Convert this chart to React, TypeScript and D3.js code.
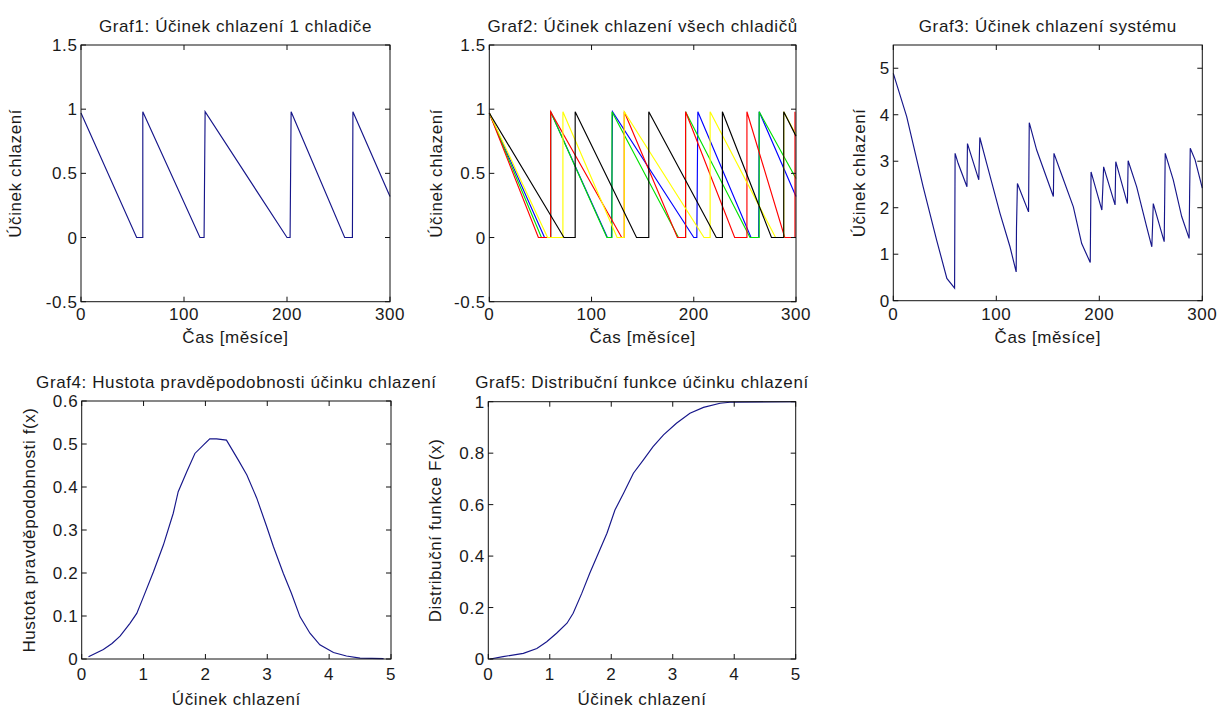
import React from "react";
import * as d3 from "d3";

// ---------- DATA ----------
// Graf1 / blue cooler in Graf2: [time (months), cooling effect]
const cooler1: [number, number][] = [
  [0, 0.97], [54, 0], [60, 0], [60, 0.98], [115.5, 0], [119.5, 0], [120, 0.5], [120.5, 0.98],
  [200, 0], [203, 0], [203.5, 0.5], [204, 0.98], [256, 0], [263.5, 0], [264, 0.98], [300, 0.32],
];
const coolerGreen: [number, number][] = [
  [0, 0.97], [51, 0], [60, 0], [60, 0.98], [115, 0], [120, 0], [120, 0.98], [185, 0], [192, 0],
  [192, 0.98], [255, 0], [264, 0], [264, 0.98], [300, 0.46],
];
const coolerRed: [number, number][] = [
  [0, 0.97], [48, 0], [60, 0], [60, 0.98], [129.5, 0], [132, 0], [132, 0.98], [184, 0], [192, 0],
  [192, 0.98], [240, 0], [252, 0], [252, 0.98], [289, 0], [299, 0], [299, 0.98],
];
const coolerYellow: [number, number][] = [
  [0, 0.97], [57, 0], [72, 0], [72, 0.98], [125, 0], [132, 0], [132, 0.98], [210, 0], [216, 0],
  [216, 0.98], [280, 0], [288, 0], [288, 0.98], [300, 0.8],
];
const coolerBlack: [number, number][] = [
  [0, 0.97], [73, 0], [84, 0], [84, 0.98], [144, 0], [156, 0], [156, 0.98], [222, 0], [228, 0],
  [228, 0.98], [276, 0], [288, 0], [288, 0.98], [300, 0.79],
];
const systemEffect: [number, number][] = [
  [0, 4.89], [13, 3.96], [29, 2.45], [42, 1.31], [52, 0.48], [59.5, 0.27],
  [60, 3.17], [63, 2.95], [71.5, 2.45], [72, 3.38], [83, 2.6], [84, 3.51], [90.7, 2.95],
  [103.6, 1.88], [113.3, 1.16], [119.3, 0.62], [119.6, 1.56], [120.5, 2.52], [131.3, 1.91],
  [132, 3.83], [139.2, 3.24], [152, 2.45], [155.4, 2.24], [156, 3.17], [161.8, 2.81],
  [174.8, 2.02], [182.9, 1.23], [191.2, 0.82], [192, 2.77], [202.5, 1.95], [203.4, 2.42],
  [204.2, 2.88], [215.3, 2.06], [216, 2.99], [227.3, 2.09], [228, 3.01], [236.3, 2.45],
  [246, 1.59], [251, 1.16], [251.7, 1.6], [252.4, 2.09], [263, 1.27], [264, 3.17],
  [271.8, 2.6], [280, 1.81], [287.2, 1.34], [287.7, 2.31], [288.3, 3.28], [293, 3.03], [300, 2.42],
];
const densityX = [0.11, 0.35, 0.49, 0.62, 0.78, 0.89, 1.0, 1.16, 1.32, 1.48, 1.56, 1.7, 1.83, 1.97, 2.07, 2.18, 2.34, 2.53, 2.67, 2.83, 2.99, 3.1, 3.26, 3.39, 3.53, 3.69, 3.85, 4.07, 4.28, 4.5, 4.88];
const densityY = [0.005, 0.022, 0.036, 0.053, 0.083, 0.106, 0.145, 0.203, 0.265, 0.339, 0.389, 0.436, 0.478, 0.498, 0.512, 0.512, 0.509, 0.463, 0.428, 0.374, 0.308, 0.261, 0.199, 0.153, 0.098, 0.06, 0.033, 0.015, 0.007, 0.002, 0.001];
const cdfX = [0.03, 0.24, 0.57, 0.79, 0.95, 1.11, 1.28, 1.38, 1.52, 1.65, 1.79, 1.93, 2.06, 2.2, 2.36, 2.52, 2.68, 2.85, 3.06, 3.28, 3.5, 3.77, 3.93, 5];
const cdfY = [0, 0.009, 0.022, 0.041, 0.067, 0.1, 0.139, 0.178, 0.255, 0.333, 0.411, 0.489, 0.579, 0.644, 0.722, 0.773, 0.825, 0.871, 0.916, 0.955, 0.978, 0.994, 0.998, 1];

const timeTicks = [0, 100, 200, 300];
const coolerTicks = [-0.5, 0, 0.5, 1, 1.5];
const systemTicks = [0, 1, 2, 3, 4, 5];
const effectTicks = [0, 1, 2, 3, 4, 5];
const densityTicks = [0, 0.1, 0.2, 0.3, 0.4, 0.5, 0.6];
const cdfTicks = [0, 0.2, 0.4, 0.6, 0.8, 1];

const BLUE = "#16168a";
const FONT = "'Liberation Sans', Arial, sans-serif";

type Box = { l: number; t: number; r: number; b: number };
type Series = { data: [number, number][]; color: string };

interface PanelProps {
  box: Box;
  xDomain: [number, number];
  yDomain: [number, number];
  xTicks: number[];
  yTicks: number[];
  title: string;
  xLabel: string;
  yLabel: string;
  series: Series[];
  xTickDy: number;
  xLabelDy: number;
  yLabelDx: number;
}

function Panel(p: PanelProps) {
  const { box } = p;
  const x = d3.scaleLinear().domain(p.xDomain).range([box.l, box.r]);
  const y = d3.scaleLinear().domain(p.yDomain).range([box.b, box.t]);
  const line = d3.line<[number, number]>().x((d) => x(d[0])).y((d) => y(d[1]));
  const tl = 5;
  const cx = (box.l + box.r) / 2;
  const cy = (box.t + box.b) / 2;
  const txt = { fontFamily: FONT, fontSize: 17, letterSpacing: 0.6, fill: "#1a1a1a" } as const;
  return (
    <g>
      {p.series.map((s, i) => (
        <path key={i} d={line(s.data) || ""} fill="none" stroke={s.color} strokeWidth={1.15} />
      ))}
      <rect x={box.l} y={box.t} width={box.r - box.l} height={box.b - box.t} fill="none" stroke="#111" strokeWidth={1} />
      {p.xTicks.map((v) => (
        <g key={"x" + v}>
          <line x1={x(v)} x2={x(v)} y1={box.b} y2={box.b - tl} stroke="#111" />
          <line x1={x(v)} x2={x(v)} y1={box.t} y2={box.t + tl} stroke="#111" />
          <text x={x(v)} y={box.b + p.xTickDy} textAnchor="middle" {...txt}>{String(v)}</text>
        </g>
      ))}
      {p.yTicks.map((v) => (
        <g key={"y" + v}>
          <line x1={box.l} x2={box.l + tl} y1={y(v)} y2={y(v)} stroke="#111" />
          <line x1={box.r} x2={box.r - tl} y1={y(v)} y2={y(v)} stroke="#111" />
          <text x={box.l - 3.5} y={y(v) + 6} textAnchor="end" {...txt}>{String(v)}</text>
        </g>
      ))}
      <text x={cx} y={box.t - 13.5} textAnchor="middle" {...txt}>{p.title}</text>
      <text x={cx} y={box.b + p.xLabelDy} textAnchor="middle" {...txt}>{p.xLabel}</text>
      <text transform={`translate(${box.l - p.yLabelDx},${cy}) rotate(-90)`} textAnchor="middle" {...txt}>{p.yLabel}</text>
    </g>
  );
}

export default function App() {
  const dens: [number, number][] = densityX.map((v, i) => [v, densityY[i]]);
  const cdf: [number, number][] = cdfX.map((v, i) => [v, cdfY[i]]);
  return (
    <svg width={1219} height={709} style={{ position: "absolute", left: 0, top: 0, background: "#fff" }}>
      <rect width={1219} height={709} fill="#fff" />
      <Panel
        box={{ l: 81, t: 45, r: 390, b: 301.7 }}
        xDomain={[0, 300]} yDomain={[-0.5, 1.5]} xTicks={timeTicks} yTicks={coolerTicks}
        title="Graf1: Účinek chlazení 1 chladiče" xLabel="Čas [měsíce]" yLabel="Účinek chlazení"
        series={[{ data: cooler1, color: BLUE }]}
        xTickDy={18.5} xLabelDy={41} yLabelDx={60.5}
      />
      <Panel
        box={{ l: 489.3, t: 45, r: 796, b: 301.7 }}
        xDomain={[0, 300]} yDomain={[-0.5, 1.5]} xTicks={timeTicks} yTicks={coolerTicks}
        title="Graf2: Účinek chlazení všech chladičů" xLabel="Čas [měsíce]" yLabel="Účinek chlazení"
        series={[
          { data: cooler1, color: "#0000ff" },
          { data: coolerGreen, color: "#00e000" },
          { data: coolerRed, color: "#ff0000" },
          { data: coolerYellow, color: "#ffff00" },
          { data: coolerBlack, color: "#000000" },
        ]}
        xTickDy={18.5} xLabelDy={41} yLabelDx={47.6}
      />
      <Panel
        box={{ l: 893.3, t: 45, r: 1202.3, b: 300.7 }}
        xDomain={[0, 300]} yDomain={[0, 5.5]} xTicks={timeTicks} yTicks={systemTicks}
        title="Graf3: Účinek chlazení systému" xLabel="Čas [měsíce]" yLabel="Účinek chlazení"
        series={[{ data: systemEffect, color: BLUE }]}
        xTickDy={19.5} xLabelDy={42} yLabelDx={28.3}
      />
      <Panel
        box={{ l: 81.7, t: 401, r: 391, b: 659 }}
        xDomain={[0, 5]} yDomain={[0, 0.6]} xTicks={effectTicks} yTicks={densityTicks}
        title="Graf4: Hustota pravděpodobnosti účinku chlazení" xLabel="Účinek chlazení" yLabel="Hustota pravděpodobnosti f(x)"
        series={[{ data: dens, color: BLUE }]}
        xTickDy={21} xLabelDy={46} yLabelDx={47}
      />
      <Panel
        box={{ l: 488.3, t: 401.7, r: 795.7, b: 659 }}
        xDomain={[0, 5]} yDomain={[0, 1]} xTicks={effectTicks} yTicks={cdfTicks}
        title="Graf5: Distribuční funkce účinku chlazení" xLabel="Účinek chlazení" yLabel="Distribuční funkce F(x)"
        series={[{ data: cdf, color: BLUE }]}
        xTickDy={21} xLabelDy={46} yLabelDx={47}
      />
    </svg>
  );
}
